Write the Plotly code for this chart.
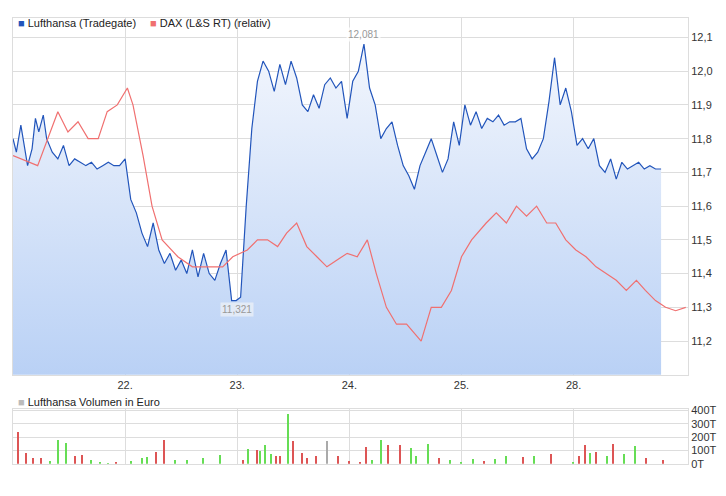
import plotly.graph_objects as go
from plotly.subplots import make_subplots

# x in trading-day units: 0 = start of 21., 6 = end of 28.
lh_x = [0.00, 0.03, 0.07, 0.10, 0.13, 0.17, 0.20, 0.23, 0.27, 0.30, 0.35, 0.40, 0.45, 0.50,
        0.55, 0.60, 0.65, 0.70, 0.75, 0.80, 0.85, 0.90, 0.95, 1.00, 1.05, 1.10, 1.15, 1.20,
        1.25, 1.30, 1.35, 1.40, 1.45, 1.50, 1.55, 1.60, 1.65, 1.70, 1.75, 1.80, 1.85, 1.90,
        1.95, 1.99, 2.03, 2.08, 2.13, 2.18, 2.23, 2.28, 2.33, 2.38, 2.43, 2.48, 2.53, 2.58,
        2.63, 2.68, 2.73, 2.78, 2.83, 2.88, 2.93, 2.98, 3.03, 3.08, 3.13, 3.18, 3.23, 3.28,
        3.33, 3.38, 3.43, 3.48, 3.53, 3.58, 3.63, 3.68, 3.73, 3.78, 3.83, 3.88, 3.93, 3.98,
        4.03, 4.08, 4.13, 4.18, 4.23, 4.28, 4.33, 4.38, 4.43, 4.48, 4.53, 4.58, 4.63, 4.68,
        4.73, 4.78, 4.83, 4.88, 4.93, 4.98, 5.03, 5.08, 5.13, 5.18, 5.23, 5.28, 5.33, 5.38,
        5.43, 5.48, 5.53, 5.58, 5.63, 5.68, 5.73, 5.78, 5.83, 5.88, 5.93, 5.96]
lh_y = [11.80, 11.76, 11.84, 11.78, 11.72, 11.77, 11.86, 11.82, 11.87, 11.80, 11.76, 11.74,
        11.78, 11.72, 11.74, 11.73, 11.72, 11.73, 11.71, 11.72, 11.73, 11.72, 11.72, 11.74,
        11.62, 11.58, 11.52, 11.48, 11.55, 11.47, 11.43, 11.46, 11.41, 11.44, 11.40, 11.47,
        11.39, 11.46, 11.40, 11.38, 11.43, 11.47, 11.32, 11.32, 11.33, 11.60, 11.83, 11.97,
        12.03, 12.00, 11.94, 12.02, 11.96, 12.03, 11.98, 11.90, 11.88, 11.93, 11.89, 11.96,
        11.98, 11.95, 11.97, 11.86, 11.97, 12.00, 12.08, 11.95, 11.90, 11.80, 11.83, 11.85,
        11.78, 11.72, 11.69, 11.65, 11.72, 11.76, 11.80, 11.75, 11.70, 11.74, 11.85, 11.78,
        11.90, 11.84, 11.88, 11.83, 11.86, 11.85, 11.87, 11.84, 11.85, 11.85, 11.86, 11.77,
        11.74, 11.76, 11.80, 11.91, 12.04, 11.90, 11.95, 11.88, 11.78, 11.80, 11.77, 11.80,
        11.72, 11.70, 11.74, 11.68, 11.73, 11.71, 11.72, 11.73, 11.71, 11.72, 11.71, 11.71]

dax_x = [0.00, 0.22, 0.40, 0.49, 0.58, 0.67, 0.76, 0.84, 0.93, 1.02, 1.07, 1.16, 1.24, 1.33,
         1.47, 1.60, 1.73, 1.87, 1.96, 2.09, 2.18, 2.27, 2.36, 2.44, 2.53, 2.62, 2.71, 2.80,
         2.89, 2.98, 3.07, 3.16, 3.24, 3.33, 3.42, 3.51, 3.64, 3.73, 3.82, 3.91, 4.00, 4.09,
         4.22, 4.31, 4.40, 4.49, 4.58, 4.67, 4.76, 4.84, 4.93, 5.02, 5.11, 5.20, 5.29, 5.38,
         5.47, 5.56, 5.64, 5.73, 5.82, 5.91, 6.00]
dax_y = [11.75, 11.72, 11.88, 11.82, 11.85, 11.80, 11.80, 11.88, 11.90, 11.95, 11.90, 11.75,
         11.60, 11.50, 11.45, 11.42, 11.42, 11.42, 11.45, 11.47, 11.50, 11.50, 11.48, 11.52,
         11.55, 11.48, 11.45, 11.42, 11.44, 11.46, 11.45, 11.50, 11.40, 11.30, 11.25, 11.25,
         11.20, 11.30, 11.30, 11.35, 11.45, 11.50, 11.55, 11.58, 11.55, 11.60, 11.57, 11.60,
         11.55, 11.55, 11.50, 11.47, 11.45, 11.42, 11.40, 11.38, 11.35, 11.38, 11.35, 11.32,
         11.30, 11.29, 11.30]

vol_x = [0.05, 0.12, 0.18, 0.25, 0.33, 0.40, 0.47, 0.55, 0.62, 0.70, 0.78, 0.85, 0.92, 1.05,
         1.15, 1.20, 1.28, 1.35, 1.45, 1.55, 1.70, 1.85, 2.05, 2.10, 2.18, 2.20, 2.25, 2.30,
         2.35, 2.38, 2.45, 2.50, 2.58, 2.62, 2.70, 2.80, 2.90, 3.00, 3.10, 3.15, 3.20, 3.28,
         3.35, 3.45, 3.55, 3.60, 3.70, 3.80, 3.90, 4.00, 4.10, 4.20, 4.30, 4.40, 4.55, 4.65,
         4.80, 5.00, 5.05, 5.10, 5.15, 5.20, 5.30, 5.35, 5.45, 5.55, 5.65, 5.80]
vol_y = [240, 80, 40, 45, 20, 180, 155, 60, 65, 30, 10, 5, 10, 20, 40, 50, 85, 180, 30, 25,
         40, 65, 30, 110, 105, 95, 140, 70, 60, 60, 370, 170, 80, 40, 55, 170, 60, 20, 10, 125,
         30, 175, 140, 140, 115, 60, 145, 45, 30, 10, 35, 20, 35, 55, 50, 60, 70, 10, 60, 140,
         80, 90, 60, 145, 70, 135, 45, 30]
vol_up = [0, 0, 0, 0, 1, 1, 1, 0, 0, 1, 1, 1, 0, 1, 1, 1, 0, 0, 1, 1, 1, 1, 0, 1, 0, 1, 1, 1,
          0, 0, 1, 0, 0, 0, 0, 2, 0, 0, 0, 0, 1, 1, 0, 0, 1, 1, 1, 0, 1, 1, 1, 0, 1, 1, 0, 1,
          0, 1, 0, 0, 1, 0, 1, 0, 1, 1, 0, 0]

day_ticks = [1, 2, 3, 4, 5]
day_labels = ["22.", "23.", "24.", "25.", "28."]

H = 496
fig = make_subplots(rows=2, cols=1)
fig.add_trace(go.Scatter(x=lh_x, y=lh_y, mode="lines", line=dict(color="#2255bb", width=1.2),
                         fill="tozeroy",
                         fillgradient=dict(type="vertical", start=11.1, stop=12.1,
                                           colorscale=[[0, "#b8d0f5"], [1, "#f4f7fd"]])),
              row=1, col=1)
fig.add_trace(go.Scatter(x=dax_x, y=dax_y, mode="lines", line=dict(color="#f07070", width=1.2)),
              row=1, col=1)
cmap = {0: "#dd5555", 1: "#66dd55", 2: "#aaaaaa"}
fig.add_trace(go.Bar(x=vol_x, y=vol_y, width=0.012, marker=dict(color=[cmap[c] for c in vol_up],
                                                                  line=dict(width=0))),
              row=2, col=1)

grid = "#dddddd"
fig.update_xaxes(range=[0, 6.02], showgrid=True, gridcolor=grid, zeroline=False,
                 tickvals=day_ticks, ticktext=day_labels, showline=True, linecolor=grid,
                 mirror=True, tickfont=dict(size=11, color="#333"))
fig.update_xaxes(showticklabels=False, row=2, col=1)
fig.update_yaxes(side="right", showgrid=True, gridcolor=grid, zeroline=False, showline=True,
                 linecolor=grid, mirror=True, tickfont=dict(size=11, color="#333"))
fig.update_yaxes(range=[11.1, 12.158], tickvals=[11.2, 11.3, 11.4, 11.5, 11.6, 11.7, 11.8, 11.9, 12.0, 12.1],
                 ticktext=["11,2", "11,3", "11,4", "11,5", "11,6", "11,7", "11,8", "11,9", "12,0", "12,1"],
                 domain=[1 - 370 / H, 1 - 5 / H], row=1, col=1)
fig.update_yaxes(range=[0, 410], tickvals=[0, 100, 200, 300, 400],
                 ticktext=["0T", "100T", "200T", "300T", "400T"],
                 domain=[1 - 461 / H, 1 - 405 / H], row=2, col=1)

fig.add_annotation(x=3.13, y=12.081, text="12,081", showarrow=False, yshift=9,
                   font=dict(size=10, color="#999"), bgcolor="rgba(255,255,255,0.8)")
fig.add_annotation(x=2.0, y=11.321, text="11,321", showarrow=False, yshift=-9,
                   font=dict(size=10, color="#999"), bgcolor="rgba(230,236,246,0.9)")
legend = [(0.005, 1 - 2 / H, "#2255bb", "Lufthansa (Tradegate)"),
          (0.2, 1 - 2 / H, "#f07070", "DAX (L&S RT) (relativ)"),
          (0.005, 1 - 390 / H, "#bbbbbb", "Lufthansa Volumen in Euro")]
for lx, ly, col, txt in legend:
    fig.add_annotation(xref="paper", yref="paper", x=lx, y=ly, xanchor="left", yanchor="top",
                       text=f"<span style='color:{col}'>■</span> {txt}", showarrow=False,
                       font=dict(size=11, color="#222"))

fig.update_layout(width=726, height=496, margin=dict(l=5, r=46, t=0, b=0),
                  paper_bgcolor="white", plot_bgcolor="white", showlegend=False,
                  font=dict(family="Liberation Sans, Arial, sans-serif"), bargap=0)
fig.write_html("out.html")
